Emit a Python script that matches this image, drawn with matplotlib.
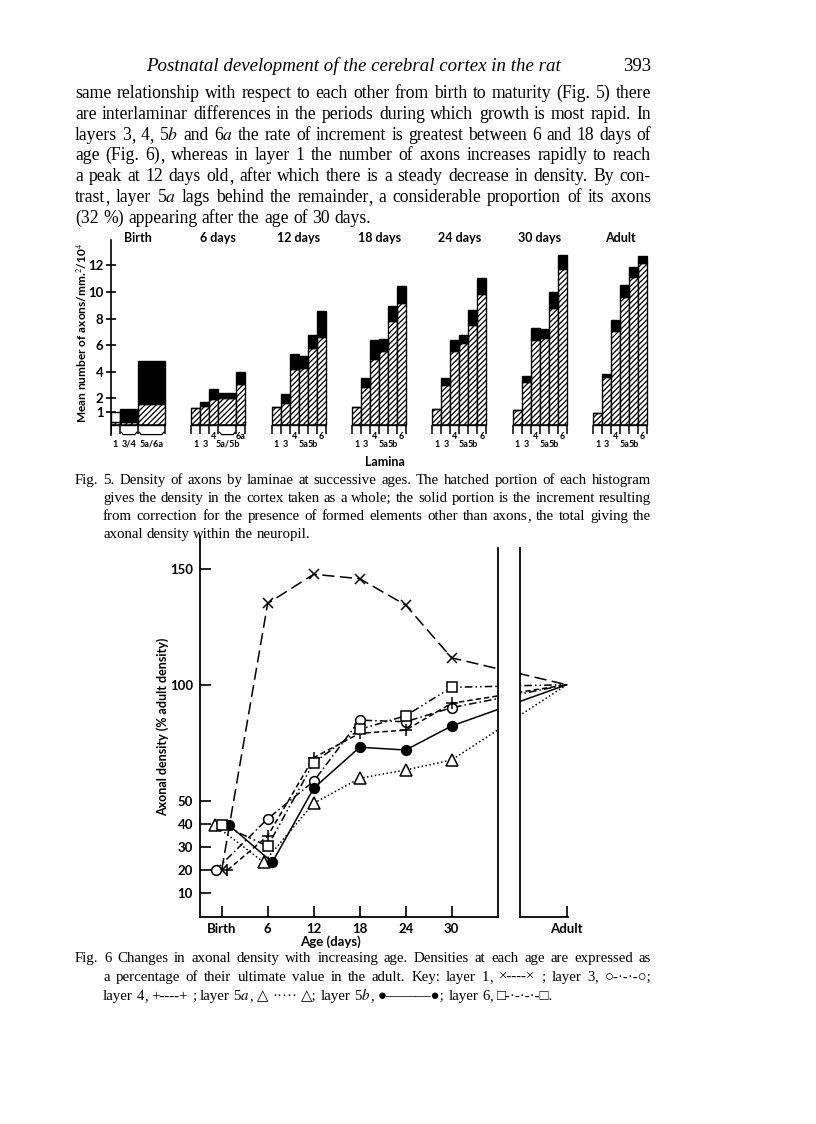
import numpy as np
import matplotlib
matplotlib.use('Agg')
import matplotlib.pyplot as plt

plt.rcParams['mathtext.fontset'] = 'stix'
plt.rcParams['hatch.linewidth'] = 0.9

# ---------------- Fig. 5 data (mean axons / mm^2 / 10^4) ----------------
ages5 = ['Birth', '6 days', '12 days', '18 days', '24 days', '30 days', 'Adult']
layers = ['1', '3', '4', '5a', '5b', '6']

birth_layers = ['1', '3/4', '5a/6a']
birth_widths = [1, 2, 3]
birth_hatched = [0.25, 0.25, 1.6]
birth_total = [1.0, 1.2, 4.8]

d6_layers = ['1', '3', '4', '5a/5b', '6a']
d6_widths = [1, 1, 1, 2, 1]
d6_hatched = [1.25, 1.45, 1.95, 2.05, 3.05]
d6_total = [1.25, 1.7, 2.72, 2.42, 4.0]

d12_hatched = [1.38, 1.63, 4.2, 4.3, 5.76, 6.64]
d12_total = [1.38, 2.3, 5.3, 5.2, 6.77, 8.57]
d18_hatched = [1.38, 2.87, 4.97, 5.53, 7.8, 9.18]
d18_total = [1.38, 3.55, 6.37, 6.47, 8.96, 10.48]
d24_hatched = [1.2, 3.0, 5.56, 6.15, 7.5, 9.82]
d24_total = [1.2, 3.5, 6.37, 6.8, 8.62, 11.03]
d30_hatched = [1.15, 3.25, 6.35, 6.5, 8.8, 11.7]
d30_total = [1.15, 3.7, 7.3, 7.2, 10.0, 12.75]
adult_hatched = [0.93, 3.63, 7.1, 9.6, 11.1, 12.15]
adult_total = [0.93, 3.8, 7.9, 10.5, 11.9, 12.7]

# ---------------- Fig. 6 data (% adult density) ----------------
age_ticks = [0, 6, 12, 18, 24, 30]
age_labels = ['Birth', '6', '12', '18', '24', '30']
adult_age = 45
l1_x = [0, 6, 12, 18, 24, 30, 45]
l1_y = [20, 135.2, 147.8, 145.9, 134.5, 111.7, 100]
l3_x = [-0.8, 6, 12, 18, 24, 30, 45]
l3_y = [20, 42.2, 58.4, 84.8, 84.1, 90.2, 100]
l4_x = [0.75, 6, 12, 18, 24, 30, 45]
l4_y = [20, 34.8, 68.6, 79.1, 80.5, 92.1, 100]
l5a_x = [-0.9, 5.5, 12, 18, 24, 30, 45]
l5a_y = [39.5, 23.4, 48.9, 59.7, 63.3, 67.6, 100]
l5b_x = [0.95, 6.6, 12, 18, 24, 30, 45]
l5b_y = [39.5, 23.4, 55.4, 73.1, 71.9, 82.3, 100]
l6_x = [0, 6, 12, 18, 24, 30, 45]
l6_y = [39.5, 30.4, 66.4, 80.8, 86.7, 99.0, 100]

W, H = 816, 1124
fig = plt.figure(figsize=(W / 100, H / 100), dpi=100)
rend = fig.canvas.get_renderer()
SANS = 'Lato'


def fam(w):
    # only fall back to DejaVu for the key symbols
    if any(ord(c) > 0x2100 for c in w):
        return ['Liberation Serif', 'DejaVu Sans']
    return 'Liberation Serif'


def px(x, y):
    return x / W, 1 - y / H


def pieces(w):
    # a trailing comma is drawn on its own so it does not pull the word down
    if len(w) > 1 and w.endswith(','):
        return [w[:-1], ',']
    return [w]


def width_of(s, size):
    a = fig.text(0, 0, s, fontsize=size, family=fam(s))
    wd = a.get_window_extent(rend).width
    a.remove()
    return wd


def comma_pull(size):
    # how much a lone comma's box overhangs compared with a comma set inside a word
    return width_of(',', size) - (width_of('x,', size) - width_of('x', size))


def word_width(w, size):
    ps = pieces(w)
    wd = sum(width_of(p, size) for p in ps)
    if len(ps) > 1:
        wd -= comma_pull(size)
    return wd


def space_of(size):
    return width_of('x x', size) - width_of('xx', size)


def fit_size(lines, target, base=10.0):
    # largest size at which every justified line still fits with normal spaces
    best = 99
    for s in lines:
        words = s.split()
        nat = sum(word_width(w, base) for w in words) + space_of(base) * (len(words) - 1)
        best = min(best, base * target / nat)
    return best * 0.985


def put_line(s, x0, y, size, x1=None):
    words = s.split()
    ws = [word_width(w, size) for w in words]
    if x1 is None:
        gap = space_of(size)
    else:
        gap = (x1 - x0 - sum(ws)) / (len(words) - 1)
    pull = comma_pull(size)
    x = x0
    for w, wd in zip(words, ws):
        ps = pieces(w)
        fig.text(*px(x, y), ps[0], fontsize=size, va='baseline', family=fam(ps[0]))
        if len(ps) > 1:
            xc = x + width_of(ps[0], size) - pull
            fig.text(*px(xc, y), ',', fontsize=size, va='baseline', family=fam(','))
        x += wd + gap


# ---------------- page text ----------------
fig.text(*px(353, 71), 'Postnatal development of the cerebral cortex in the rat',
         fontsize=13.6, style='italic', ha='center', va='baseline', family='Liberation Serif')
fig.text(*px(651, 71), '393', fontsize=13.5, ha='right', va='baseline', family='Liberation Serif')

body = [
    'same relationship with respect to each other from birth to maturity (Fig. 5) there',
    'are interlaminar differences in the periods during which growth is most rapid.  In',
    'layers 3, 4, 5$b$ and 6$a$ the rate of increment is greatest between 6 and 18 days of',
    'age (Fig. 6), whereas in layer 1 the number of axons increases rapidly to reach',
    'a peak at 12 days old, after which there is a steady decrease in density.  By con-',
    'trast, layer 5$a$ lags behind the remainder, a considerable proportion of its axons',
]
bs = fit_size(body, 576)
for i, s in enumerate(body):
    put_line(s, 75, 98 + i * 20.8, bs, x1=651)
put_line('(32 %) appearing after the age of 30 days.', 75, 98 + 6 * 20.8, bs)

cap5 = [
    'Fig. 5.  Density of axons by laminae at successive ages. The hatched portion of each histogram',
    'gives the density in the cortex taken as a whole; the solid portion is the increment resulting',
    'from correction for the presence of formed elements other than axons, the total giving the',
]
cs = min(fit_size(cap5[:1], 576), fit_size(cap5[1:], 548))
put_line(cap5[0], 75, 484, cs, x1=651)
put_line(cap5[1], 103, 502, cs, x1=651)
put_line(cap5[2], 103, 520, cs, x1=651)
put_line('axonal density within the neuropil.', 103, 538, cs)

cap6a = 'Fig. 6   Changes in axonal density with increasing age.  Densities at each age are expressed as'
cap6b = 'a percentage of their ultimate value in the adult.  Key: layer 1, \u00d7----\u00d7 ; layer 3, \u25cb-\u00b7-\u00b7-\u25cb;'
cap6c = ('layer 4,  +----+ ; layer 5$a$, \u25b3 \u00b7\u00b7\u00b7\u00b7\u00b7 \u25b3; layer 5$b$, \u25cf\u2014\u2014\u2014\u25cf; '
         'layer 6, \u25a1-\u00b7-\u00b7-\u00b7-\u25a1.')
put_line(cap6a, 75, 962, cs, x1=651)
put_line(cap6b, 103, 981, cs, x1=651)
put_line(cap6c, 103, 1000, cs)

# ---------------- Fig. 5 ----------------
ax5 = fig.add_axes([111 / W, 1 - 435 / H, 540 / W, 195 / H])
ax5.set_xlim(0, 60)
ax5.set_ylim(-0.75, 13.9)
for s in ('top', 'right', 'bottom'):
    ax5.spines[s].set_visible(False)
ax5.spines['left'].set_linewidth(1.2)
ax5.set_xticks([])
ax5.set_yticks([1, 2, 4, 6, 8, 10, 12])
ax5.tick_params(axis='y', direction='inout', length=7, width=1.2, labelsize=9.5, pad=2)
for t in ax5.get_yticklabels():
    t.set_fontfamily(SANS)
    t.set_fontweight('bold')
ax5.patch.set_visible(False)

panels = [
    (birth_layers, birth_widths, birth_hatched, birth_total),
    (d6_layers, d6_widths, d6_hatched, d6_total),
    (layers, [1] * 6, d12_hatched, d12_total),
    (layers, [1] * 6, d18_hatched, d18_total),
    (layers, [1] * 6, d24_hatched, d24_total),
    (layers, [1] * 6, d30_hatched, d30_total),
    (layers, [1] * 6, adult_hatched, adult_total),
]
for p, (labs, wid, hat, tot) in enumerate(panels):
    off = p * 8.93
    wid = np.array(wid, float)
    hat = np.array(hat)
    tot = np.array(tot)
    lefts = off + np.concatenate([[0], np.cumsum(wid)[:-1]])
    ax5.bar(lefts, hat, wid, align='edge', color='white', edgecolor='black',
            hatch='//////', lw=1.0)
    fc = ['white' if (p == 0 and j == 0) else 'black' for j in range(len(wid))]
    ax5.bar(lefts, tot - hat, wid, bottom=hat, align='edge', color=fc,
            edgecolor='black', lw=1.0)
    edges = np.concatenate([lefts, [off + wid.sum()]])
    ax5.vlines(edges, -0.65, 0, color='black', lw=1.1)
    ax5.hlines(0, off, off + wid.sum(), color='black', lw=1.1)
    for l, w, lab in zip(lefts, wid, labs):
        cx = l + w / 2
        if w > 1:
            ax5.plot([l + 0.15, l + 0.35, l + w - 0.35, l + w - 0.15],
                     [-0.55, -0.72, -0.72, -0.55], color='black', lw=0.9, clip_on=False)
        raised = lab in ('4', '6', '6a')
        ax5.text(cx, -0.9 if raised else -1.45, lab, ha='center', va='center',
                 fontsize=6.5, family=SANS, fontweight='bold', clip_on=False)
    ax5.text(off + 3, 14.05, ages5[p], ha='center', va='center', fontsize=9,
             family=SANS, fontweight='bold', clip_on=False)

ax5.text((385 - 111) / 9, -2.8, 'Lamina', ha='center', va='center', fontsize=9,
         family=SANS, fontweight='bold', clip_on=False)
fig.text(*px(82, 333), 'Mean number of axons/mm.$^{2}$/10$^{4}$', rotation=90,
         ha='center', va='center', fontsize=8.6, family=SANS, fontweight='bold')

# ---------------- Fig. 6 ----------------
axL = fig.add_axes([200 / W, 1 - 916.5 / H, 298.3 / W, 379.5 / H])
axR = fig.add_axes([520 / W, 1 - 916.5 / H, 48 / W, 368.5 / H])
axL.set_xlim(-2.83, 36.08)
axL.set_ylim(0, 163.9)
axR.set_xlim(38.9, 45.16)
axR.set_ylim(0, 159.0)

series = [
    (l1_x, l1_y, dict(dashes=(8, 3.5), marker='x', ms=7, mfc='black')),
    (l3_x, l3_y, dict(dashes=(5, 2, 1, 2), marker='o', ms=7, mfc='white')),
    (l4_x, l4_y, dict(dashes=(3.5, 2), marker='+', ms=9, mfc='black')),
    (l5a_x, l5a_y, dict(dashes=(1, 1.6), marker='^', ms=8, mfc='white')),
    (l5b_x, l5b_y, dict(ls='-', marker='o', ms=7, mfc='black')),
    (l6_x, l6_y, dict(dashes=(5, 2, 1, 2, 1, 2), marker='s', ms=7, mfc='white')),
]
for ax in (axL, axR):
    ax.patch.set_visible(False)
    for x, y, st in series:
        ax.plot(x, y, color='black', lw=1.1, mec='black', mew=1.1,
                markevery=list(range(len(x) - 1)), **st)
    for s in ('top', 'right', 'left', 'bottom'):
        ax.spines[s].set_linewidth(1.3)
    ax.spines['top'].set_visible(False)

axL.spines['right'].set_bounds(0, 159.0)
axL.set_xticks(age_ticks, age_labels)
axL.set_yticks([10, 20, 30, 40, 50, 100, 150])
axL.tick_params(direction='in', length=8, width=1.2, labelsize=9.5, pad=5)
axR.spines['right'].set_visible(False)
axR.set_xticks([adult_age], ['Adult'])
axR.set_yticks([])
axR.tick_params(direction='in', length=8, width=1.2, labelsize=9.5, pad=5)
for ax in (axL, axR):
    for t in ax.get_xticklabels() + ax.get_yticklabels():
        t.set_fontfamily(SANS)
        t.set_fontweight('bold')

fig.text(*px(163, 727), 'Axonal density (% adult density)', rotation=90,
         ha='center', va='center', fontsize=9, family=SANS, fontweight='bold')
fig.text(*px(330, 942), 'Age (days)', ha='center', va='center', fontsize=9.5,
         family=SANS, fontweight='bold')

fig.savefig('out.png', dpi=100)
